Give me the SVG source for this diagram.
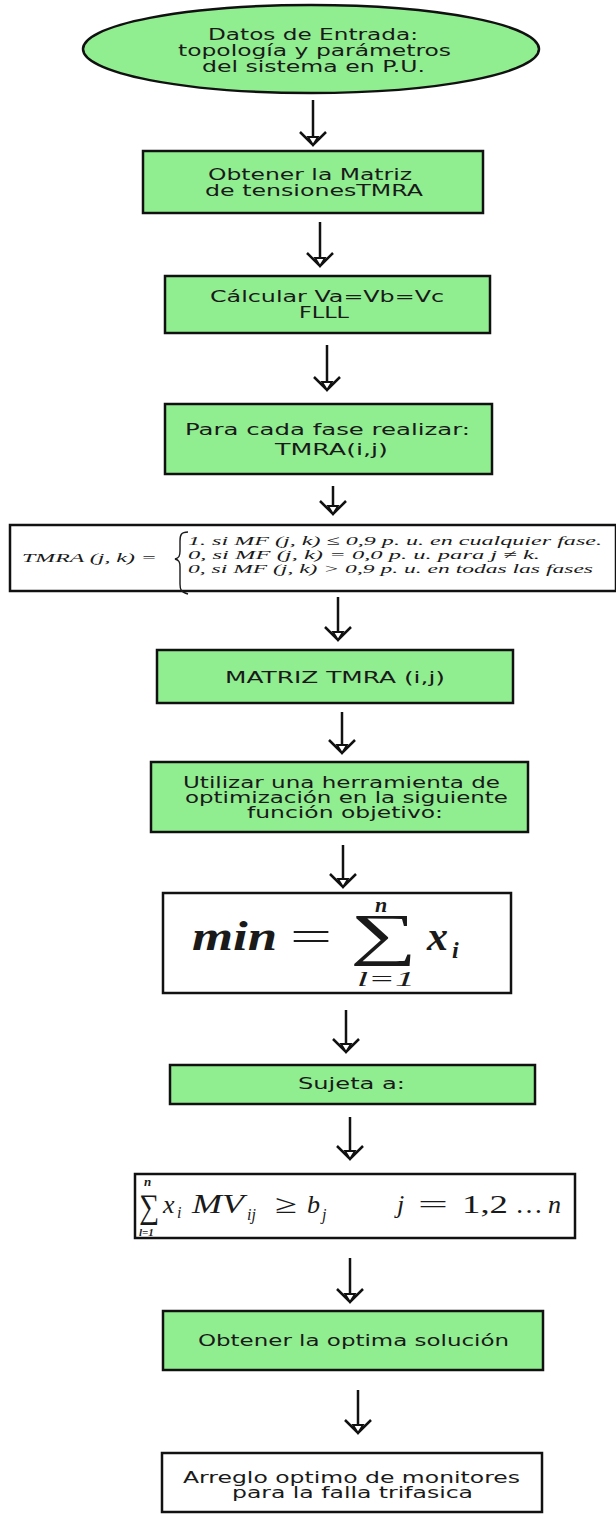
<svg xmlns="http://www.w3.org/2000/svg" xmlns:xlink="http://www.w3.org/1999/xlink" width="616" height="1515" viewBox="0 0 616 1515">
  <style>
    .step { fill: #90ee90; stroke: #111; stroke-width: 2.5; }
    .plain { fill: #fff; stroke: #111; stroke-width: 2.5; }
    .lbl { font-family: "DejaVu Sans", Verdana, sans-serif; font-size: 15.5px; fill: #1a1a1a; }
    .math { font-family: "Liberation Serif", "DejaVu Serif", serif; font-style: italic; fill: #1a1a1a; }
    .mathup { font-family: "Liberation Serif", "DejaVu Serif", serif; fill: #1a1a1a; }
    .shaft { stroke: #111; stroke-width: 2.5; fill: none; }
  </style>
  <defs>
    <!-- open arrowhead with a small hollow triangle at the tip; tip at (0,0) -->
    <g id="head">
      <path d="M-13,-13 L0,0 L13,-13" fill="none" stroke="#111" stroke-width="2.5" stroke-linejoin="miter"/>
      <path d="M-5,-8 L5,-8 L0,0 Z" fill="#fff" stroke="#111" stroke-width="1.8"/>
    </g>
  </defs>
  <rect width="616" height="1515" fill="#fff"/>

  <!-- connectors -->
  <g id="connectors">
    <line class="shaft" x1="313" y1="100" x2="313" y2="137"/><use xlink:href="#head" x="313" y="145"/>
    <line class="shaft" x1="320" y1="222" x2="320" y2="258"/><use xlink:href="#head" x="320" y="266"/>
    <line class="shaft" x1="327" y1="345" x2="327" y2="382"/><use xlink:href="#head" x="327" y="390"/>
    <line class="shaft" x1="333" y1="486" x2="333" y2="506"/><use xlink:href="#head" x="333" y="514"/>
    <line class="shaft" x1="338" y1="597" x2="338" y2="632"/><use xlink:href="#head" x="338" y="640"/>
    <line class="shaft" x1="342" y1="712" x2="342" y2="745"/><use xlink:href="#head" x="342" y="753"/>
    <line class="shaft" x1="343" y1="845" x2="343" y2="879"/><use xlink:href="#head" x="343" y="887"/>
    <line class="shaft" x1="346" y1="1010" x2="346" y2="1044"/><use xlink:href="#head" x="346" y="1052"/>
    <line class="shaft" x1="350" y1="1117" x2="350" y2="1151"/><use xlink:href="#head" x="350" y="1159"/>
    <line class="shaft" x1="350" y1="1258" x2="350" y2="1294"/><use xlink:href="#head" x="350" y="1302"/>
    <line class="shaft" x1="358" y1="1390" x2="358" y2="1425"/><use xlink:href="#head" x="358" y="1433"/>
  </g>

  <g id="inicio">
    <ellipse class="step" cx="311" cy="49" rx="228" ry="44"/>
    <text class="lbl" x="208" y="40" textLength="210" lengthAdjust="spacingAndGlyphs">Datos de Entrada:</text>
    <text class="lbl" x="178" y="56" textLength="273" lengthAdjust="spacingAndGlyphs">topología y parámetros</text>
    <text class="lbl" x="202" y="72" textLength="223" lengthAdjust="spacingAndGlyphs">del sistema en P.U.</text>
  </g>

  <g id="matriz-tensiones">
    <rect class="step" x="143" y="151" width="340" height="62"/>
    <text class="lbl" x="208" y="180" textLength="204" lengthAdjust="spacingAndGlyphs">Obtener la Matriz</text>
    <text class="lbl" x="205" y="196" textLength="218" lengthAdjust="spacingAndGlyphs">de tensionesTMRA</text>
  </g>

  <g id="calcular">
    <rect class="step" x="165" y="276" width="325" height="57"/>
    <text class="lbl" x="210" y="302" textLength="234" lengthAdjust="spacingAndGlyphs">Cálcular Va=Vb=Vc</text>
    <text class="lbl" x="299" y="318" textLength="50" lengthAdjust="spacingAndGlyphs">FLLL</text>
  </g>

  <g id="cada-fase">
    <rect class="step" x="165" y="404" width="327" height="70"/>
    <text class="lbl" x="185" y="435" textLength="285" lengthAdjust="spacingAndGlyphs">Para cada fase realizar:</text>
    <text class="lbl" x="275" y="455" textLength="113" lengthAdjust="spacingAndGlyphs">TMRA(i,j)</text>
  </g>

  <g id="definicion-tmra">
    <rect class="plain" x="10" y="525" width="606" height="66" stroke-width="2"/>
    <text class="math" x="22" y="562" font-size="12" textLength="135" lengthAdjust="spacingAndGlyphs">TMRA (j, k) =</text>
    <path d="M188,532 C181,532 180,535 180,541 L180,551 C180,556 179,558 175,559 C179,560 180,562 180,567 L180,584 C180,590 181,592 188,594" fill="none" stroke="#1a1a1a" stroke-width="1.4"/>
    <text class="math" x="188" y="545" font-size="13.5" textLength="414" lengthAdjust="spacingAndGlyphs">1. si MF (j, k) ≤ 0,9 p. u. en cualquier fase.</text>
    <text class="math" x="188" y="559" font-size="13.5" textLength="352" lengthAdjust="spacingAndGlyphs">0, si MF (j, k) = 0,0 p. u. para j ≠ k.</text>
    <text class="math" x="188" y="573" font-size="13.5" textLength="405" lengthAdjust="spacingAndGlyphs">0, si MF (j, k) &gt; 0,9 p. u. en todas las fases</text>
  </g>

  <g id="matriz-tmra">
    <rect class="step" x="157" y="650" width="356" height="53"/>
    <text class="lbl" x="225" y="683" textLength="220" lengthAdjust="spacingAndGlyphs">MATRIZ TMRA (i,j)</text>
  </g>

  <g id="optimizacion">
    <rect class="step" x="151" y="762" width="377" height="70"/>
    <text class="lbl" x="183" y="788" textLength="317" lengthAdjust="spacingAndGlyphs">Utilizar una herramienta de</text>
    <text class="lbl" x="185" y="803" textLength="323" lengthAdjust="spacingAndGlyphs">optimización en la siguiente</text>
    <text class="lbl" x="247" y="818" textLength="196" lengthAdjust="spacingAndGlyphs">función objetivo:</text>
  </g>

  <g id="funcion-objetivo">
    <rect class="plain" x="163" y="893" width="348" height="100"/>
    <text class="math" x="192" y="950" font-size="42" font-weight="bold" textLength="85" lengthAdjust="spacingAndGlyphs">min</text>
    <text class="mathup" x="290" y="950" font-size="42" textLength="42" lengthAdjust="spacingAndGlyphs">=</text>
    <text class="mathup" x="350" y="954" font-size="58" textLength="67" lengthAdjust="spacingAndGlyphs">∑</text>
    <text class="math" x="375" y="912" font-size="22" font-weight="bold">n</text>
    <text class="math" x="357" y="986" font-size="20" textLength="58" lengthAdjust="spacingAndGlyphs">l=1</text>
    <text class="math" x="427" y="950" font-size="42" font-weight="bold">x</text>
    <text class="math" x="452" y="958" font-size="24" font-weight="bold">i</text>
  </g>

  <g id="sujeta">
    <rect class="step" x="170" y="1065" width="365" height="39"/>
    <text class="lbl" x="298" y="1089" textLength="107" lengthAdjust="spacingAndGlyphs">Sujeta a:</text>
  </g>

  <g id="restriccion">
    <rect class="plain" x="135" y="1174" width="440" height="64"/>
    <text class="mathup" x="139" y="1218" font-size="34" textLength="20" lengthAdjust="spacingAndGlyphs">∑</text>
    <text class="math" x="144" y="1186" font-size="13" font-weight="bold">n</text>
    <text class="math" x="139" y="1236" font-size="11" font-weight="bold">l=1</text>
    <text class="math" x="163" y="1213" font-size="26">x</text>
    <text class="math" x="177" y="1218" font-size="16">i</text>
    <text class="math" x="192" y="1213" font-size="27" textLength="52" lengthAdjust="spacingAndGlyphs">MV</text>
    <text class="math" x="247" y="1220" font-size="16">ij</text>
    <text class="mathup" x="275" y="1213" font-size="26" textLength="22" lengthAdjust="spacingAndGlyphs">≥</text>
    <text class="math" x="307" y="1213" font-size="26">b</text>
    <text class="math" x="322" y="1220" font-size="16">j</text>
    <text class="math" x="397" y="1213" font-size="26">j</text>
    <text class="mathup" x="418" y="1213" font-size="26" textLength="30" lengthAdjust="spacingAndGlyphs">=</text>
    <text class="mathup" x="462" y="1213" font-size="26" textLength="46" lengthAdjust="spacingAndGlyphs">1,2</text>
    <text class="mathup" x="515" y="1213" font-size="26" textLength="28" lengthAdjust="spacingAndGlyphs">…</text>
    <text class="math" x="548" y="1213" font-size="26">n</text>
  </g>

  <g id="solucion">
    <rect class="step" x="163" y="1311" width="380" height="59"/>
    <text class="lbl" x="198" y="1346" textLength="311" lengthAdjust="spacingAndGlyphs">Obtener la optima solución</text>
  </g>

  <g id="resultado">
    <rect class="plain" x="162" y="1453" width="380" height="59"/>
    <text class="lbl" x="183" y="1483" textLength="337" lengthAdjust="spacingAndGlyphs">Arreglo optimo de monitores</text>
    <text class="lbl" x="232" y="1498" textLength="241" lengthAdjust="spacingAndGlyphs">para la falla trifasica</text>
  </g>
</svg>
